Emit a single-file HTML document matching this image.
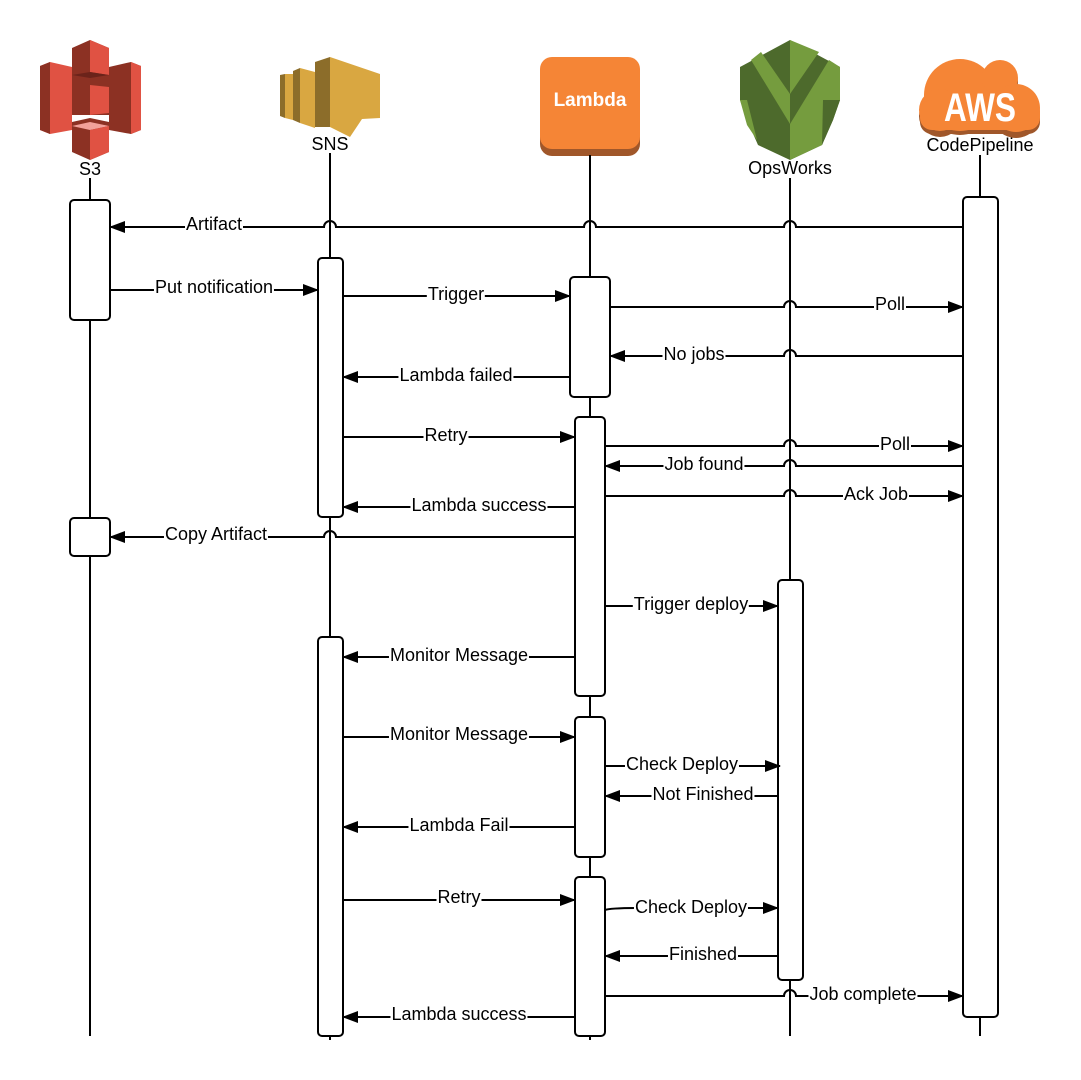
<!DOCTYPE html>
<html><head><meta charset="utf-8"><style>
html,body{margin:0;padding:0;background:#fff}
svg{display:block;position:absolute;left:0;top:0}
text{font-family:"Liberation Sans",Arial,sans-serif;font-size:18px;fill:#000}
.l{position:absolute;font-family:"Liberation Sans",Arial,sans-serif;font-size:18px;line-height:20px;background:#fff;transform:translateX(-50%);white-space:nowrap;padding:0 1px;color:#000}
</style></head><body>
<div style="position:relative;width:1081px;height:1080px;overflow:hidden">
<svg width="1081" height="1080" viewBox="0 0 1081 1080" xmlns="http://www.w3.org/2000/svg">
<defs>
<marker id="a" markerWidth="16" markerHeight="12" refX="15" refY="6" orient="auto" markerUnits="userSpaceOnUse">
<path d="M0,0 L16,6 L0,12 Z" fill="#000"/></marker>
</defs>
<!-- S3 icon -->
<polygon points="40,66 50,62 72,67 72,130 50,134 40,130" fill="#E05243"/>
<polygon points="40,66 50,62 50,134 40,130" fill="#8C3123"/>
<polygon points="109,67 131,62 141,66 141,130 131,134 109,130" fill="#8C3123"/>
<polygon points="131,62 141,66 141,130 131,134" fill="#E05243"/>
<polygon points="72,48 90,40 109,48 109,75 72,75" fill="#8C3123"/>
<polygon points="90,40 109,48 109,75 90,75" fill="#E05243"/>
<polygon points="72,75 90,72 109,75 109,115 72,115" fill="#8C3123"/>
<polygon points="72,75 90,72 109,75 90,78" fill="#6B231A"/>
<polygon points="90,85 109,87 109,113 90,115" fill="#E05243"/>
<polygon points="72,122 90,118 109,122 109,152 90,160 72,152" fill="#8C3123"/>
<polygon points="72,126 90,122 109,126 90,130" fill="#F2A19A"/>
<polygon points="90,130 109,126 109,152 90,160" fill="#E05243"/>
<text x="90" y="175" text-anchor="middle">S3</text>
<!-- SNS icon -->
<polygon points="280,75 285,74 285,118 280,116" fill="#8C6D2A"/>
<polygon points="285,74 293,74 293,120 285,118" fill="#D9A741"/>
<polygon points="293,71 300,68 300,123 293,120" fill="#8C6D2A"/>
<polygon points="300,68 315,72 315,128 300,123" fill="#D9A741"/>
<polygon points="315,62 330,57 330,127 315,127" fill="#8C6D2A"/>
<polygon points="330,57 380,74 380,118 362,119 350,137 330,127" fill="#D9A741"/>
<text x="330" y="150" text-anchor="middle">SNS</text>
<!-- Lambda -->
<rect x="540" y="62" width="100" height="94" rx="12" fill="#A0572A"/>
<rect x="540" y="57" width="100" height="92" rx="12" fill="#F58536"/>
<text x="590" y="106" text-anchor="middle" style="font-weight:bold;font-size:19px;fill:#fff">Lambda</text>
<!-- OpsWorks -->
<polygon points="790,40 840,67 840,100 833,120 822,145 790,160 758,145 747,120 740,100 740,67" fill="#4D6A2C"/>
<polygon points="790,40 819,52 790,94" fill="#759C3E"/>
<polygon points="751,60 790,124 790,94 761,52" fill="#759C3E"/>
<polygon points="790,124 829,60 840,67 840,100 822,145 790,160" fill="#759C3E"/>
<polygon points="823,100 840,100 833,120 822,145" fill="#4D6A2C"/>
<polygon points="740,100 747,100 757,140 747,125" fill="#759C3E"/>
<text x="790" y="174" text-anchor="middle">OpsWorks</text>
<!-- AWS cloud -->
<g fill="#A0572A" transform="translate(0,4)">
<circle cx="960" cy="95" r="36"/><circle cx="1000" cy="78" r="18"/><circle cx="1016" cy="110" r="24"/><circle cx="940" cy="112" r="21"/>
<rect x="920" y="100" width="120" height="30" rx="12"/></g>
<g fill="#F58536">
<circle cx="960" cy="95" r="36"/><circle cx="1000" cy="78" r="18"/><circle cx="1016" cy="108" r="24"/><circle cx="940" cy="110" r="21"/>
<rect x="920" y="100" width="120" height="30" rx="12"/></g>
<text x="980" y="121" text-anchor="middle" textLength="72" lengthAdjust="spacingAndGlyphs" style="font-weight:bold;font-size:40px;fill:#fff">AWS</text>
<text x="980" y="151" text-anchor="middle">CodePipeline</text>

<g stroke="#000" stroke-width="2" fill="none">
<line x1="90" y1="178" x2="90" y2="1036"/>
<line x1="330" y1="153" x2="330" y2="1040"/>
<line x1="590" y1="155" x2="590" y2="1040"/>
<line x1="790" y1="178" x2="790" y2="1036"/>
<line x1="980" y1="155" x2="980" y2="1036"/>
</g>
<g stroke="#000" stroke-width="2" fill="#fff">
<rect x="70" y="200" width="40" height="120" rx="4"/>
<rect x="70" y="518" width="40" height="38" rx="4"/>
<rect x="318" y="258" width="25" height="259" rx="4"/>
<rect x="318" y="637" width="25" height="399" rx="4"/>
<rect x="570" y="277" width="40" height="120" rx="4"/>
<rect x="575" y="417" width="30" height="279" rx="4"/>
<rect x="575" y="717" width="30" height="140" rx="4"/>
<rect x="575" y="877" width="30" height="159" rx="4"/>
<rect x="778" y="580" width="25" height="400" rx="4"/>
<rect x="963" y="197" width="35" height="820" rx="4"/>
</g>
<g stroke="#000" stroke-width="2" fill="none" marker-end="url(#a)">
<path d="M963,227 H796 a6,6 0 0 0 -12,0 H596 a6,6 0 0 0 -12,0 H336 a6,6 0 0 0 -12,0 H110"/>
<path d="M110,290 H318"/>
<path d="M343,296 H570"/>
<path d="M610,307 H784 a6,6 0 0 1 12,0 H963"/>
<path d="M963,356 H796 a6,6 0 0 0 -12,0 H610"/>
<path d="M570,377 H343"/>
<path d="M343,437 H575"/>
<path d="M605,446 H784 a6,6 0 0 1 12,0 H963"/>
<path d="M963,466 H796 a6,6 0 0 0 -12,0 H605"/>
<path d="M605,496 H784 a6,6 0 0 1 12,0 H963"/>
<path d="M575,507 H343"/>
<path d="M575,537 H336 a6,6 0 0 0 -12,0 H110"/>
<path d="M605,606 H778"/>
<path d="M575,657 H343"/>
<path d="M343,737 H575"/>
<path d="M605,766 H780"/>
<path d="M778,796 H605"/>
<path d="M575,827 H343"/>
<path d="M343,900 H575"/>
<path d="M605,910 Q610,908 640,908 H778"/>
<path d="M778,956 H605"/>
<path d="M605,996 H784 a6,6 0 0 1 12,0 H963"/>
<path d="M575,1017 H343"/>
</g>
</svg>
<span class="l" style="left:214px;top:214px">Artifact</span>
<span class="l" style="left:214px;top:277px">Put notification</span>
<span class="l" style="left:456px;top:284px">Trigger</span>
<span class="l" style="left:890px;top:294px">Poll</span>
<span class="l" style="left:694px;top:344px">No jobs</span>
<span class="l" style="left:456px;top:365px">Lambda failed</span>
<span class="l" style="left:446px;top:425px">Retry</span>
<span class="l" style="left:895px;top:434px">Poll</span>
<span class="l" style="left:704px;top:454px">Job found</span>
<span class="l" style="left:876px;top:484px">Ack Job</span>
<span class="l" style="left:479px;top:495px">Lambda success</span>
<span class="l" style="left:216px;top:524px">Copy Artifact</span>
<span class="l" style="left:691px;top:594px">Trigger deploy</span>
<span class="l" style="left:459px;top:645px">Monitor Message</span>
<span class="l" style="left:459px;top:724px">Monitor Message</span>
<span class="l" style="left:682px;top:754px">Check Deploy</span>
<span class="l" style="left:703px;top:784px">Not Finished</span>
<span class="l" style="left:459px;top:815px">Lambda Fail</span>
<span class="l" style="left:459px;top:887px">Retry</span>
<span class="l" style="left:691px;top:897px">Check Deploy</span>
<span class="l" style="left:703px;top:944px">Finished</span>
<span class="l" style="left:863px;top:984px">Job complete</span>
<span class="l" style="left:459px;top:1004px">Lambda success</span>
</div>
</body></html>
